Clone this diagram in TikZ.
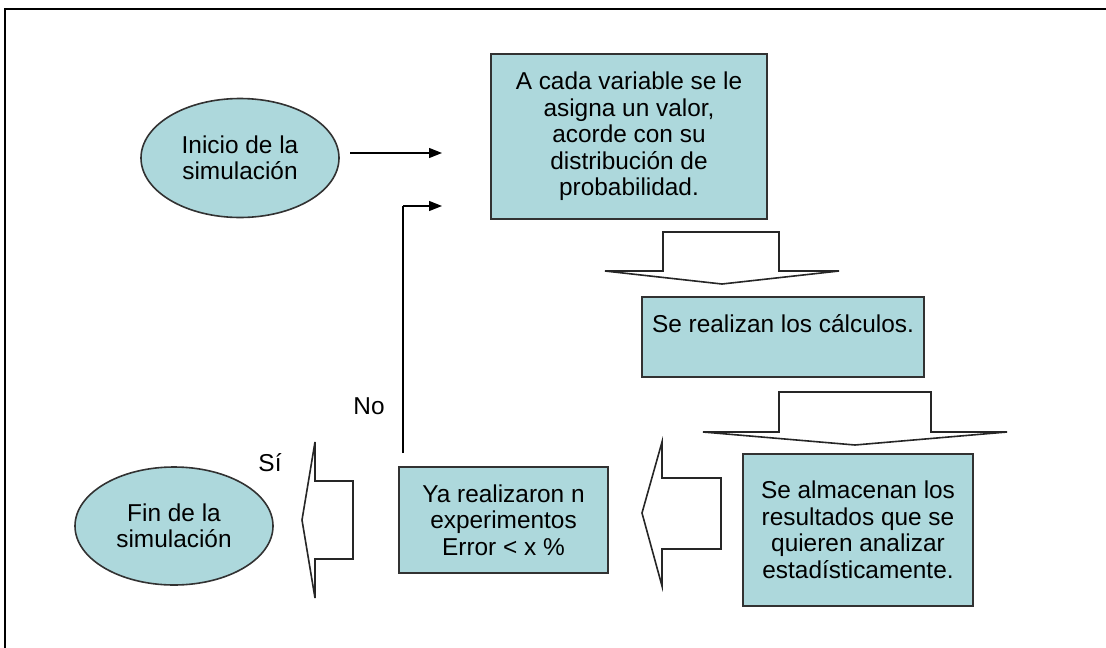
\documentclass[tikz,border=0pt]{standalone}
\usepackage{fontspec}
\setmainfont{Liberation Sans}
\usetikzlibrary{arrows.meta,shapes.geometric}
\definecolor{boxfill}{RGB}{173,216,220}
\definecolor{boxline}{RGB}{50,50,50}
\tikzset{
  txt/.style={font=\fontsize{24.4}{26.5}\selectfont, text=black},
  boxnode/.style={txt, draw=boxline, line width=1.6pt, fill=boxfill, rectangle, align=center, inner sep=0pt},
  ellnode/.style={txt, draw=boxline, line width=1.6pt, fill=boxfill, ellipse, align=center, inner sep=0pt},
  blockarrow/.style={draw=black!85, line width=1.6pt, fill=white, line join=miter},
  conn/.style={line width=1.4pt, -{Triangle[length=13pt,width=10pt]}},
  loopline/.style={line width=2.6pt},
}
\begin{document}
\begin{tikzpicture}[x=1pt,y=-1pt]
\useasboundingbox (0,0) rectangle (1106,648);
% frame
\draw[line width=2.6pt] (5,670) -- (5,9) -- (1120,9);

% nodes
\node[ellnode, minimum width=198, minimum height=119] (inicio) at (240,158) {Inicio de la\\simulación};
\node[boxnode, minimum width=276, minimum height=165] (asigna) at (629,136.5) {A cada variable se le\\asigna un valor,\\acorde con su\\distribución de\\probabilidad.};
\node[boxnode, minimum width=282, minimum height=80] (calc) at (783,337) {Se realizan los cálculos.\\\mbox{}};
\node[boxnode, minimum width=230, minimum height=152] (almac) at (858,530) {Se almacenan los\\resultados que se\\quieren analizar\\estadísticamente.};
\node[boxnode, minimum width=209, minimum height=106] (exper) at (503.5,520) {Ya realizaron n\\experimentos\\Error < x \%};
\node[ellnode, minimum width=198, minimum height=118] (fin) at (174,526) {Fin de la\\simulación};

% labels
\node[txt] (no) at (369,406) {No};
\node[txt] (si) at (270,463) {Sí};

% block arrows
\draw[blockarrow] (663,232) -- (779,232) -- (779,271) -- (839,271) -- (722,284) -- (605,271) -- (663,271) -- cycle;
\draw[blockarrow] (779,392) -- (931,392) -- (931,432) -- (1007,432) -- (855,445) -- (703,432) -- (779,432) -- cycle;
\draw[blockarrow] (721,478) -- (721,549) -- (662,549) -- (662,586) -- (642,513) -- (662,442) -- (662,478) -- cycle;
\draw[blockarrow] (353,481) -- (353,559) -- (315,559) -- (315,598) -- (302,520) -- (315,442) -- (315,481) -- cycle;

% connectors
\coordinate (a1s) at (350,153);
\coordinate (a1e) at (442,153);
\coordinate (l0) at (403,453);
\coordinate (l1) at (403,206);
\coordinate (l2) at (442,206);
\draw[conn] (a1s) -- (a1e);
\draw[loopline] (l0) -- (l1);
\draw[conn] (l1) -- (l2);
\end{tikzpicture}
\end{document}
